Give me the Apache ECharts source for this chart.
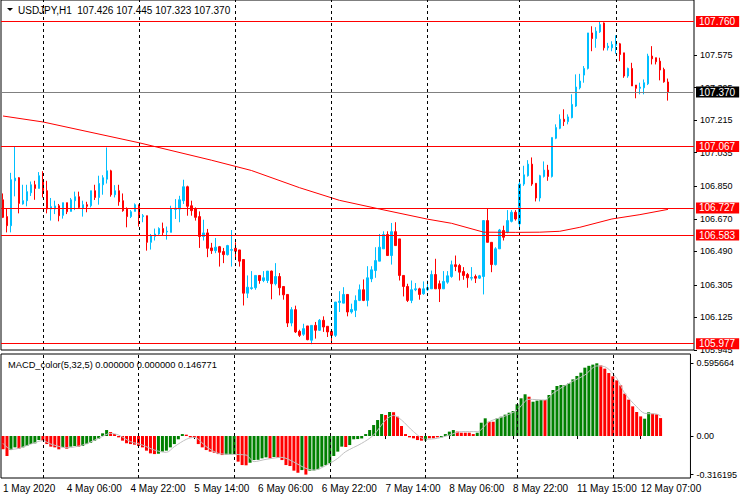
<!DOCTYPE html>
<html><head><meta charset="utf-8">
<script src="https://cdn.jsdelivr.net/npm/echarts@6/dist/echarts.min.js"></script>
<style>html,body{margin:0;padding:0;background:#fff}#c{width:740px;height:500px}</style>
</head><body><div id="c"></div>
<script>
// ---------- DATA ----------
const symbolTitle = 'USDJPY,H1  107.426 107.445 107.323 107.370';
const macdTitle = 'MACD_color(5,32,5) 0.000000 0.000000 0.146771';
// trading sessions: [day, firstHour, lastHour]
const sessionDays = [['1 May',14,23],['4 May',0,23],['5 May',0,23],['6 May',0,23],['7 May',0,23],['8 May',0,22],['11 May',0,23],['12 May',0,13]];
const open = [106.775,106.682,106.632,106.880,106.897,106.752,106.770,106.814,106.858,106.838,
106.886,106.825,106.724,106.724,106.742,106.689,106.759,106.711,106.770,106.792,
106.728,106.748,106.742,106.825,106.788,106.858,106.889,106.935,106.803,106.825,
106.770,106.724,106.682,106.711,106.748,106.682,106.687,106.540,106.573,106.586,
106.616,106.597,106.595,106.722,106.724,106.770,106.847,106.742,106.724,106.682,
106.572,106.592,106.509,106.494,106.516,106.489,106.472,106.496,106.507,106.498,
106.445,106.259,106.285,106.289,106.357,106.329,106.329,106.381,106.311,106.351,
106.296,106.252,106.094,106.168,106.048,106.032,106.078,105.999,106.081,106.054,
106.109,106.076,106.048,106.026,106.208,106.204,106.252,106.155,106.164,106.219,
106.278,106.219,106.338,106.384,106.436,106.504,106.583,106.467,106.599,106.559,
106.357,106.296,106.219,106.278,106.283,106.256,106.278,106.283,106.362,106.311,
106.283,106.320,106.351,106.416,106.412,106.379,106.362,106.342,106.351,106.342,
106.351,106.660,106.540,106.417,106.504,106.605,106.596,106.656,106.706,106.642,
106.862,106.908,106.972,106.866,106.785,106.904,106.939,106.904,107.115,107.170,
107.220,107.207,107.229,107.293,107.394,107.464,107.501,107.697,107.666,107.703,
107.752,107.615,107.615,107.628,107.637,107.587,107.459,107.501,107.409,107.391,
107.394,107.416,107.569,107.560,107.541,107.495,107.426];
const high = [106.810,106.724,106.924,107.067,106.900,106.858,106.858,106.876,106.880,106.928,
106.933,106.880,106.785,106.770,106.752,106.759,106.759,106.785,106.820,106.820,
106.770,106.764,106.825,106.858,106.908,106.911,107.064,106.941,106.856,106.858,
106.810,106.733,106.718,106.755,106.748,106.696,106.687,106.586,106.616,106.623,
106.649,106.627,106.742,106.779,106.797,106.886,106.853,106.770,106.733,106.711,
106.665,106.614,106.537,106.564,106.520,106.509,106.526,106.608,106.540,106.498,
106.445,106.357,106.381,106.357,106.357,106.381,106.381,106.384,106.425,106.370,
106.296,106.252,106.182,106.190,106.057,106.090,106.078,106.081,106.100,106.116,
106.131,106.076,106.048,106.210,106.270,106.292,106.252,106.201,106.247,106.307,
106.335,106.408,106.408,106.513,106.586,106.601,106.601,106.647,106.651,106.559,
106.357,106.311,106.329,106.315,106.289,106.324,106.329,106.384,106.449,106.329,
106.381,106.381,106.439,106.467,106.421,106.403,106.371,106.403,106.362,106.360,
106.660,106.724,106.540,106.513,106.614,106.632,106.718,106.718,106.718,106.880,
106.963,106.994,107.009,106.866,106.913,106.987,106.968,107.119,107.192,107.247,
107.275,107.247,107.358,107.468,107.471,107.514,107.697,107.734,107.729,107.760,
107.755,107.642,107.651,107.684,107.642,107.587,107.505,107.532,107.409,107.422,
107.440,107.582,107.624,107.560,107.560,107.505,107.445];
const low = [106.674,106.595,106.595,106.794,106.700,106.748,106.739,106.796,106.775,106.838,
106.788,106.700,106.660,106.696,106.656,106.671,106.696,106.711,106.718,106.724,
106.682,106.706,106.733,106.774,106.748,106.803,106.865,106.792,106.788,106.742,
106.709,106.623,106.674,106.711,106.627,106.651,106.494,106.500,106.550,106.581,
106.577,106.555,106.595,106.669,106.651,106.752,106.687,106.687,106.660,106.509,
106.550,106.458,106.476,106.480,106.406,106.425,106.467,106.406,106.449,106.406,
106.191,106.232,106.278,106.278,106.311,106.320,106.315,106.225,106.302,106.247,
106.223,106.072,106.076,106.039,106.017,106.023,105.999,105.977,106.008,106.050,
106.045,106.017,105.977,106.017,106.155,106.204,106.131,106.146,106.127,106.215,
106.215,106.186,106.320,106.344,106.436,106.504,106.467,106.417,106.522,106.329,
106.241,106.210,106.204,106.270,106.223,106.250,106.270,106.283,106.283,106.210,
106.283,106.311,106.344,106.381,106.329,106.333,106.289,106.329,106.315,106.338,
106.252,106.540,106.375,106.412,106.504,106.550,106.590,106.650,106.660,106.620,
106.852,106.903,106.852,106.766,106.766,106.898,106.880,106.898,107.110,107.165,
107.183,107.192,107.225,107.288,107.385,107.422,107.495,107.596,107.615,107.697,
107.600,107.600,107.596,107.582,107.541,107.449,107.449,107.404,107.336,107.358,
107.358,107.409,107.523,107.523,107.435,107.422,107.323];
const close = [106.678,106.632,106.886,106.895,106.755,106.770,106.820,106.858,106.838,106.908,
106.825,106.724,106.737,106.741,106.687,106.759,106.709,106.775,106.792,106.733,
106.748,106.739,106.825,106.788,106.865,106.897,106.935,106.803,106.825,106.764,
106.715,106.682,106.709,106.748,106.684,106.687,106.540,106.577,106.586,106.616,
106.594,106.601,106.724,106.728,106.775,106.847,106.739,106.715,106.678,106.572,
106.592,106.507,106.494,106.513,106.485,106.472,106.522,106.500,106.491,106.436,
106.259,106.292,106.289,106.357,106.329,106.344,106.381,106.311,106.351,106.289,
106.250,106.094,106.168,106.045,106.026,106.063,106.002,106.081,106.054,106.109,
106.072,106.045,106.026,106.210,106.215,106.252,106.155,106.169,106.219,106.278,
106.219,106.344,106.388,106.439,106.513,106.583,106.467,106.599,106.522,106.357,
106.296,106.219,106.278,106.283,106.252,106.283,106.289,106.362,106.283,106.283,
106.324,106.355,106.416,106.406,106.375,106.357,106.344,106.346,106.342,106.355,
106.660,106.540,106.417,106.504,106.608,106.568,106.660,106.706,106.669,106.862,
106.913,106.972,106.862,106.785,106.908,106.939,106.904,107.119,107.174,107.220,
107.207,107.233,107.302,107.398,107.431,107.501,107.697,107.666,107.707,107.743,
107.615,107.624,107.633,107.637,107.578,107.459,107.501,107.404,107.391,107.398,
107.422,107.569,107.554,107.538,107.492,107.427,107.370];
// moving average read at sample bars: [barIndex, value]
const maPoints = [[0,107.238],[10,107.205],[34,107.090],[52,106.994],[62,106.937],[74,106.842],[84,106.772],[94,106.724],[106,106.668],[112,106.645],[120,106.596],[128,106.595],[134,106.596],[139,106.601],[144,106.623],[152,106.669],[159,106.693],[166,106.722]];
const levelLines = [107.760, 107.067, 106.727, 106.583, 105.977];
const lastPrice = 107.370;
const priceTicks = [105.945,106.125,106.305,106.490,106.670,106.850,107.035,107.215,107.395,107.575];
const macdTicks = [-0.316195, 0, 0.595664];
const macdHist = [-0.109,-0.164,-0.115,-0.093,-0.104,-0.093,-0.082,-0.066,-0.060,-0.033,
-0.038,-0.066,-0.087,-0.093,-0.109,-0.093,-0.104,-0.087,-0.082,-0.087,
-0.082,-0.066,-0.055,-0.038,-0.022,0.022,0.049,0.033,0.016,-0.011,
-0.038,-0.060,-0.066,-0.071,-0.082,-0.093,-0.120,-0.142,-0.148,-0.145,
-0.128,-0.120,-0.093,-0.066,-0.027,0.016,0.011,-0.011,-0.015,-0.066,
-0.093,-0.115,-0.128,-0.137,-0.148,-0.156,-0.152,-0.150,-0.148,-0.210,
-0.238,-0.240,-0.219,-0.197,-0.195,-0.183,-0.175,-0.183,-0.172,-0.178,
-0.197,-0.238,-0.246,-0.284,-0.301,-0.279,-0.316,-0.284,-0.282,-0.273,
-0.251,-0.238,-0.224,-0.164,-0.128,-0.087,-0.090,-0.074,-0.027,-0.025,
-0.020,0.016,0.049,0.090,0.131,0.180,0.172,0.197,0.195,0.158,
0.082,0.016,-0.011,-0.019,-0.033,-0.038,-0.036,-0.019,-0.019,-0.011,
-0.011,0.016,0.036,0.049,0.036,0.027,0.027,0.027,0.016,0.027,
0.109,0.145,0.117,0.117,0.145,0.158,0.175,0.191,0.205,0.260,
0.309,0.342,0.322,0.281,0.290,0.295,0.295,0.336,0.377,0.410,
0.418,0.418,0.432,0.464,0.492,0.519,0.560,0.575,0.585,0.5957,
0.578,0.552,0.516,0.489,0.456,0.415,0.347,0.298,0.243,0.197,
0.161,0.142,0.194,0.183,0.178,0.147];
const macdColorFlags = 'rrggrggggg'+'rrrrrgrggr'+'gggggggrrr'+'rrrrrrrrrg'+'ggggggrrrr'+'rrrrrrgggr'+'rrgggggrgr'+'rrrrrgrggg'+'ggggggrggg'+'ggggggrgrr'+'rrrrrrgrrr'+'ggggrrrrrg'+'ggrrgggggg'+'ggrgggrggg'+'gggggggggg'+'rrrrrrrrrr'+'rggrrr';
const signalPoints = [[0,-0.060],[2,-0.109],[4,-0.101],[7,-0.066],[10,-0.038],[12,-0.066],[16,-0.096],[20,-0.074],[24,-0.019],[27,0.022],[29,0.008],[32,-0.046],[35,-0.074],[38,-0.115],[41,-0.134],[43,-0.087],[46,-0.027],[48,-0.011],[51,-0.087],[54,-0.142],[57,-0.150],[61,-0.156],[63,-0.210],[66,-0.191],[70,-0.175],[72,-0.197],[76,-0.265],[78,-0.279],[82,-0.224],[84,-0.183],[86,-0.128],[90,-0.060],[93,0.008],[96,0.131],[98,0.169],[100,0.131],[103,0.036],[106,-0.027],[109,-0.019],[112,0.008],[115,0.036],[119,0.036],[122,0.117],[126,0.164],[129,0.213],[132,0.301],[136,0.295],[138,0.350],[142,0.432],[146,0.500],[149,0.574],[151,0.568],[154,0.473],[156,0.350],[159,0.240],[161,0.186],[164,0.180],[165,0.164]];
const xTickBars = ['1 May 14:00','4 May 06:00','4 May 22:00','5 May 14:00','6 May 06:00','6 May 22:00','7 May 14:00','8 May 06:00','8 May 22:00','11 May 15:00','12 May 07:00'];
const xTickLabels = ['1 May 2020','4 May 06:00','4 May 22:00','5 May 14:00','6 May 06:00','6 May 22:00','7 May 14:00','8 May 06:00','8 May 22:00','11 May 15:00','12 May 07:00'];

// ---------- BUILD ----------
const FONT = 'Liberation Sans';
const SLOTS = 173;
const categories = [];
sessionDays.forEach(([d,h0,h1]) => { for (let h=h0; h<=h1; h++) categories.push(d+' '+String(h).padStart(2,'0')+':00'); });
const daySeparators = categories.filter(c => c.endsWith(' 00:00'));
for (let k=0; categories.length<SLOTS; k++) categories.push('pad'+k);
const labelMap = {};
xTickBars.forEach((c,i) => { labelMap[categories.indexOf(c)] = xTickLabels[i]; });

const candleData = open.map((o,i) => [o, close[i], low[i], high[i]]);
const macdData = macdHist.map((v,i) => ({value:v, itemStyle:{color: macdColorFlags[i]==='g' ? '#008000' : '#ff0000'}}));

const vLines = daySeparators.map(c => ({xAxis:c}));
const vLineStyle = {color:'#000', type:[3,3], width:1};

const boxLabel = (v, bg) => ({show:true, position:'end', distance:2, formatter: v.toFixed(3), backgroundColor:bg, color:'#fff',
          fontFamily:FONT, fontSize:10, lineHeight:11, padding:[0,4,0,3]});
const hLines = levelLines.map(v => ({
  yAxis: v, lineStyle: {color:'#ff0000', width:1, type:'solid'}, label: boxLabel(v, '#ff0000')
}));
hLines.push({ yAxis: lastPrice, lineStyle: {color:'#808080', width:1, type:'solid'}, label: boxLabel(lastPrice, '#000') });

const chart = echarts.init(document.getElementById('c'), null, {renderer:'svg', width:740, height:500});
chart.setOption({
  animation:false,
  backgroundColor:'#fff',
  grid:[
    {left:1, top:-1, width:693, height:351, show:true, borderColor:'#000', borderWidth:1, backgroundColor:'transparent'},
    {left:1, top:354, width:693, height:124, show:true, borderColor:'#000', borderWidth:1, backgroundColor:'transparent'}
  ],
  xAxis:[
    {type:'category', gridIndex:0, data:categories, boundaryGap:true,
     axisLine:{show:false}, axisTick:{show:false}, axisLabel:{show:false}, splitLine:{show:false}},
    {type:'category', gridIndex:1, data:categories, boundaryGap:true,
     axisLine:{show:false},
     axisTick:{show:true, length:3, alignWithLabel:true, interval:(i)=>labelMap[i]!==undefined, lineStyle:{color:'#000'}},
     axisLabel:{show:true, interval:(i)=>labelMap[i]!==undefined, formatter:(v,i)=>labelMap[i]||'',
       align:'left', color:'#000', fontFamily:FONT, fontSize:10, margin:5, hideOverlap:false},
     splitLine:{show:false}}
  ],
  yAxis:[
    {type:'value', gridIndex:0, position:'right', min:105.945, max:107.879, scale:true,
     axisLine:{show:false}, splitLine:{show:false},
     axisTick:{show:true, length:3, customValues:priceTicks, lineStyle:{color:'#000'}},
     axisLabel:{customValues:priceTicks, formatter:v=>v.toFixed(3), color:'#000', fontFamily:FONT, fontSize:9, margin:6}},
    {type:'value', gridIndex:1, position:'right', min:-0.344, max:0.672,
     axisLine:{show:false}, splitLine:{show:false},
     axisTick:{show:true, length:3, customValues:macdTicks, lineStyle:{color:'#000'}},
     axisLabel:{customValues:macdTicks, formatter:v=>v===0?'0.00':v.toFixed(6), color:'#000', fontFamily:FONT, fontSize:9, margin:6}}
  ],
  series:[
    {type:'candlestick', xAxisIndex:0, yAxisIndex:0, data:candleData, barWidth:2,
     itemStyle:{color:'#00bfff', color0:'#ff0000', borderColor:'#00bfff', borderColor0:'#ff0000', borderWidth:1},
     markLine:{silent:true, symbol:['none','none'], animation:false,
       data: vLines.map(d=>Object.assign({}, d, {lineStyle:vLineStyle, label:{show:false}})).concat(hLines)}},
    {type:'line', xAxisIndex:0, yAxisIndex:0, data:maPoints, showSymbol:false, symbol:'none',
     lineStyle:{color:'#ff0000', width:1}, z:3},
    {type:'bar', xAxisIndex:1, yAxisIndex:1, data:macdData, barWidth:3,
     markLine:{silent:true, symbol:['none','none'], animation:false,
       data: vLines.map(d=>Object.assign({}, d, {lineStyle:vLineStyle, label:{show:false}}))}},
    {type:'line', xAxisIndex:1, yAxisIndex:1, data:signalPoints, showSymbol:false, symbol:'none', smooth:0.3,
     lineStyle:{color:'#c0c0c0', width:1}, z:3}
  ],
  graphic:[
    {type:'polygon', shape:{points:[[7,8],[13,8],[10,11]]}, style:{fill:'#000'}},
    {type:'text', x:18, y:10, style:{text:symbolTitle, fontFamily:FONT, fontSize:10, fill:'#000', verticalAlign:'middle'}},
    {type:'text', x:8, y:365, style:{text:macdTitle, fontFamily:FONT, fontSize:9.3, fill:'#000', verticalAlign:'middle'}}
  ]
});
</script>
</body></html>
